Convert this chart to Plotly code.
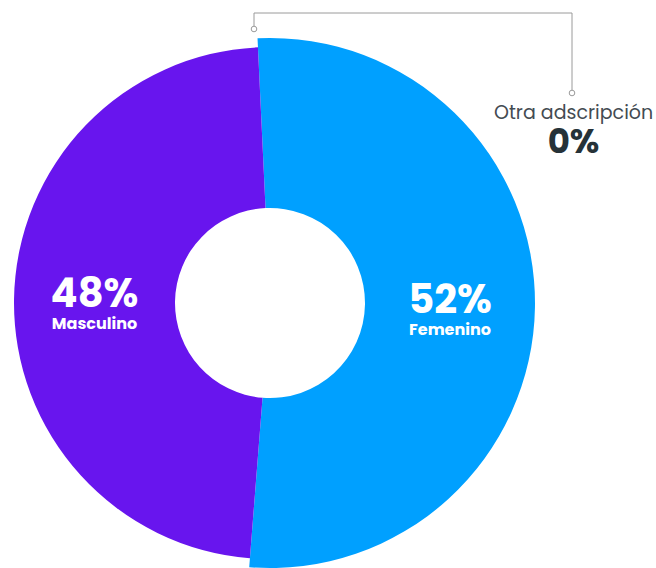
import plotly.graph_objects as go

# ---- data ----
categories = ["Otra adscripción", "Femenino", "Masculino"]
values = [0, 52, 48]
colors = ["#9E9E9E", "#00A0FF", "#6815EE"]

W, H = 656, 568

def px_x(x):
    return x / W

def px_y(y):
    return 1 - y / H

CX, CY = 270, 303
R_BLUE, R_PURPLE, R_HOLE = 265, 256, 95
ROT = -2.7

def texttpl(keep):
    out = []
    for c in categories:
        if c == keep:
            out.append("<b><span style='font-size:40px'>%{percent:.0%}</span></b><br>"
                       "<b><span style='font-size:16px'>%{label}</span></b>")
        else:
            out.append("")
    return out

def slice_colors(keep):
    return [col if c == keep else "rgba(0,0,0,0)" for c, col in zip(categories, colors)]

fig = go.Figure()

# Femenino (larger radius)
fig.add_trace(go.Pie(
    labels=categories, values=values, sort=False, direction="clockwise",
    rotation=ROT, hole=R_HOLE / R_BLUE,
    marker=dict(colors=slice_colors("Femenino"), line=dict(width=0)),
    texttemplate=texttpl("Femenino"), textposition="inside",
    insidetextorientation="horizontal",
    textfont=dict(family="Poppins, Open Sans, sans-serif", color="white", size=17),
    domain=dict(x=[px_x(CX - R_BLUE), px_x(CX + R_BLUE)],
                y=[px_y(CY + R_BLUE), px_y(CY - R_BLUE)]),
    hoverinfo="label+percent", showlegend=False,
))

# Masculino (smaller radius)
fig.add_trace(go.Pie(
    labels=categories, values=values, sort=False, direction="clockwise",
    rotation=ROT, hole=R_HOLE / R_PURPLE,
    marker=dict(colors=slice_colors("Masculino"), line=dict(width=0)),
    texttemplate=texttpl("Masculino"), textposition="inside",
    insidetextorientation="horizontal",
    textfont=dict(family="Poppins, Open Sans, sans-serif", color="white", size=17),
    domain=dict(x=[px_x(CX - R_PURPLE), px_x(CX + R_PURPLE)],
                y=[px_y(CY + R_PURPLE), px_y(CY - R_PURPLE)]),
    hoverinfo="label+percent", showlegend=False,
))

# connector for the 0% slice
line_col = "#9A9A9A"
x0, y0 = 254, 29
x1, y1 = 572, 93
ytop = 13
shapes = [
    dict(type="path", xref="paper", yref="paper",
         path=f"M {px_x(x0)},{px_y(y0-3)} L {px_x(x0)},{px_y(ytop)} L {px_x(x1)},{px_y(ytop)} L {px_x(x1)},{px_y(y1-3)}",
         line=dict(color=line_col, width=1)),
]
for (cx, cy) in [(x0, y0), (x1, y1)]:
    shapes.append(dict(type="circle", xref="paper", yref="paper",
                       x0=px_x(cx - 2.8), x1=px_x(cx + 2.8),
                       y0=px_y(cy + 2.8), y1=px_y(cy - 2.8),
                       line=dict(color=line_col, width=1), fillcolor="white"))

annotations = [
    dict(xref="paper", yref="paper", x=px_x(573), y=px_y(132), showarrow=False,
         text=(f"<span style='font-size:19px;color:#444B52'>{categories[0]}</span><br>"
               f"<b><span style='font-size:34px'>{values[0]}%</span></b>"),
         font=dict(family="Poppins, Open Sans, sans-serif", size=26, color="#263238"),
         xanchor="center", yanchor="middle", align="center"),
]

fig.update_layout(
    width=W, height=H, margin=dict(l=0, r=0, t=0, b=0),
    paper_bgcolor="white", plot_bgcolor="white",
    shapes=shapes, annotations=annotations,
)

fig.write_html("out.html")
